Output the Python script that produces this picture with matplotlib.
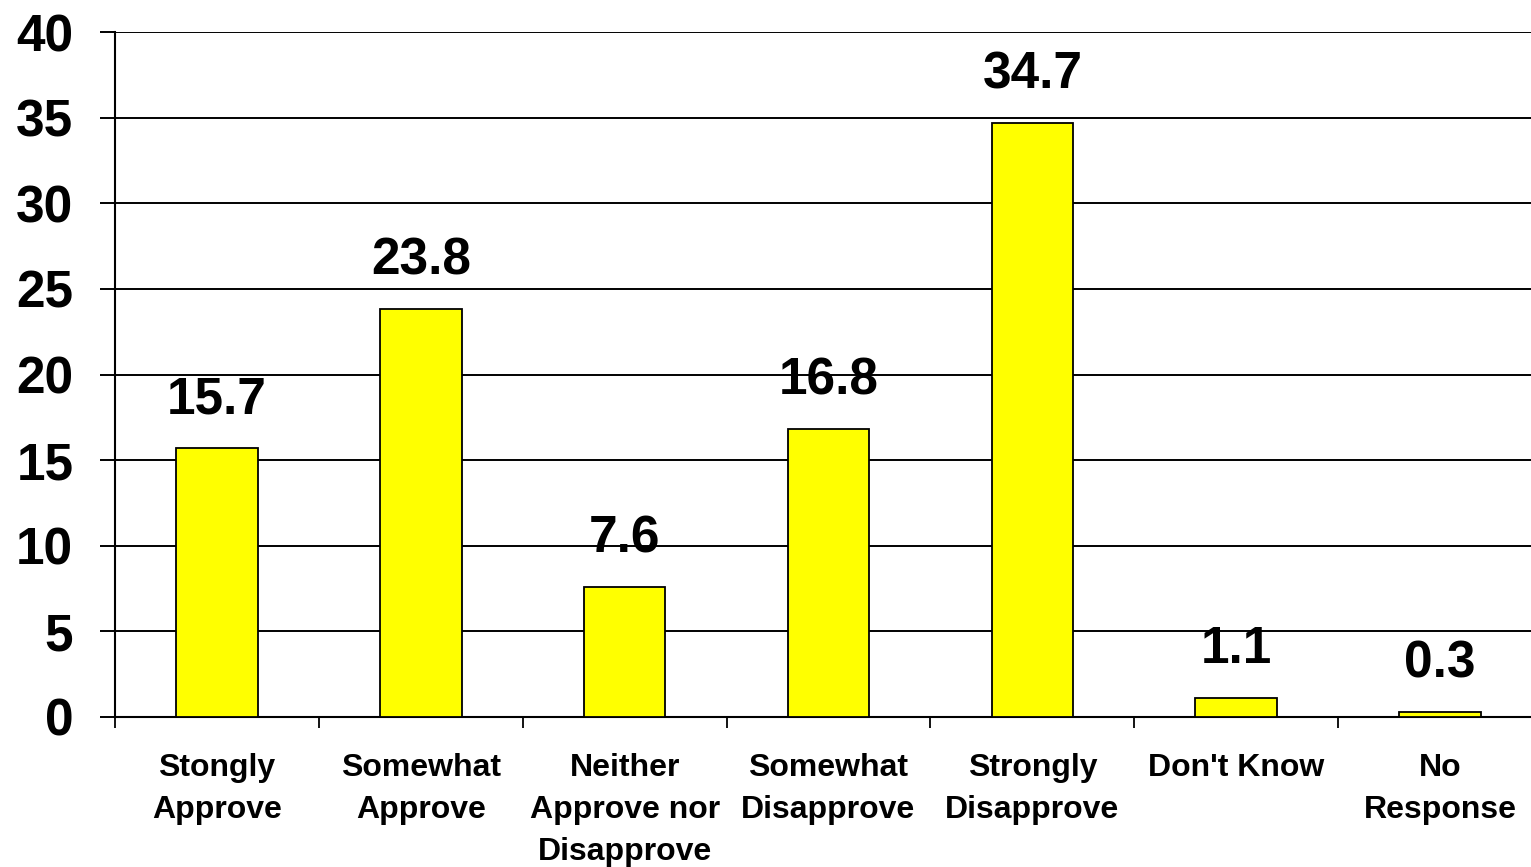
import matplotlib.pyplot as plt

categories = ["Stongly\nApprove", "Somewhat\nApprove", "Neither\nApprove nor\nDisapprove",
              "Somewhat\nDisapprove", "Strongly\nDisapprove", "Don't Know", "No\nResponse"]
values = [15.7, 23.8, 7.6, 16.8, 34.7, 1.1, 0.3]
y_ticks = [0, 5, 10, 15, 20, 25, 30, 35, 40]

plt.rcParams['font.family'] = ['Liberation Sans', 'DejaVu Sans']
plt.rcParams['font.weight'] = 'bold'

fig = plt.figure(figsize=(15.31, 8.67), dpi=100)
ax = fig.add_axes([115 / 1531, 150 / 867, 1427 / 1531, 685 / 867])

x = list(range(len(categories)))
ax.bar(x, values, width=0.4, color='#ffff00', edgecolor='black', linewidth=1.3, zorder=3)

for xi, v in zip(x, values):
    ax.annotate(f"{v:.1f}", (xi, v), xytext=(0, 25), textcoords='offset points',
                ha='center', va='baseline', fontsize=37, fontweight='bold')

ax.set_xlim(-0.5, 6.5)
ax.set_ylim(0, 40)
ax.set_yticks(y_ticks)
ax.set_yticklabels([str(t) for t in y_ticks], fontsize=37, fontweight='bold')
ax.yaxis.grid(True, color='black', linewidth=1.4, zorder=0)
ax.set_axisbelow(True)

# separators between categories
ax.set_xticks([i + 0.5 for i in range(-1, 7)], minor=False)
ax.set_xticklabels([''] * 8)
ax.set_xticks(x, minor=True)
ax.set_xticklabels(categories, minor=True, fontsize=23, fontweight='bold', linespacing=1.52)
ax.tick_params(axis='x', which='major', length=8, width=1.3, direction='out')
ax.tick_params(axis='x', which='minor', length=0, pad=26)
ax.tick_params(axis='y', length=11, width=1.4, direction='out', pad=19)

for side in ['top', 'right']:
    ax.spines[side].set_visible(False)
ax.spines['left'].set_linewidth(1.5)
ax.spines['bottom'].set_linewidth(1.5)

fig.savefig('out.png', dpi=100)
